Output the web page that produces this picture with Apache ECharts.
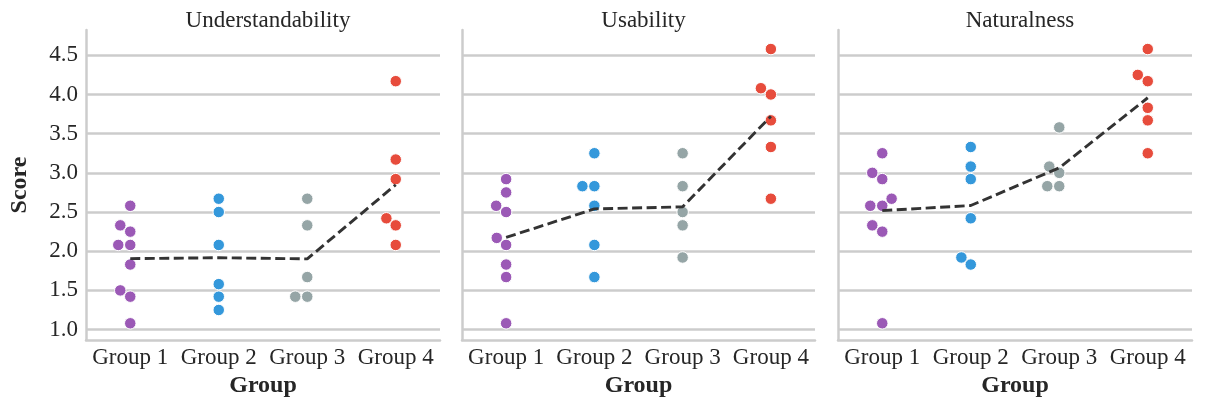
<!DOCTYPE html>
<html>
<head>
<meta charset="utf-8">
<script src="https://cdn.jsdelivr.net/npm/echarts@6/dist/echarts.min.js"></script>
<style>
  html, body { margin: 0; padding: 0; background: #ffffff; }
  #chart { width: 1207px; height: 403px; }
</style>
</head>
<body>
<div id="chart"></div>
<script>
// ---------------- data ----------------
const categories = ['Group 1', 'Group 2', 'Group 3', 'Group 4'];
const panelTitles = ['Understandability', 'Usability', 'Naturalness'];
const groupColors = ['#9b59b6', '#3498db', '#95a5a6', '#e74c3c'];

const understandability = [
  [2.58, 2.33, 2.25, 2.08, 2.08, 1.83, 1.50, 1.42, 1.08],
  [2.67, 2.50, 2.08, 1.58, 1.42, 1.25],
  [2.67, 2.33, 1.67, 1.42, 1.42],
  [4.17, 3.17, 2.92, 2.42, 2.33, 2.08]
];
const usability = [
  [2.92, 2.75, 2.58, 2.50, 2.17, 2.08, 1.83, 1.67, 1.08],
  [3.25, 2.83, 2.83, 2.58, 2.08, 1.67],
  [3.25, 2.83, 2.50, 2.33, 1.92],
  [4.58, 4.08, 4.00, 3.67, 3.33, 2.67]
];
const naturalness = [
  [3.25, 3.00, 2.92, 2.67, 2.58, 2.58, 2.33, 2.25, 1.08],
  [3.33, 3.08, 2.92, 2.42, 1.92, 1.83],
  [3.58, 3.08, 3.00, 2.83, 2.83],
  [4.58, 4.25, 4.17, 3.83, 3.67, 3.25]
];
const panelData = [understandability, usability, naturalness];

const yMin = 0.867, yMax = 4.823;

// ---------------- layout ----------------
const FONT = '"Liberation Serif", "Times New Roman", serif';
const TXT = '#262626';
const GRIDC = '#cccccc';
const gridTop = 30, gridHeight = 312;
const gridLefts = [86, 462, 838];
const gridWidths = [354, 353, 354];
const markerDiam = 11.4; // px, used for swarm spacing

// beeswarm layout (seaborn-like), returns offsets in category units
function swarmOffsets(values, xppu, yppu, diam) {
  const order = values.map((v, i) => i).sort((a, b) => values[a] - values[b]);
  const placed = [];
  const offs = new Array(values.length).fill(0);
  for (const i of order) {
    const y = values[i] * yppu;
    const neigh = placed.filter(p => Math.abs(p.y - y) < diam);
    const cands = [0];
    let leftFirst = true;
    for (const p of neigh) {
      const dy = y - p.y;
      const dx = Math.sqrt(Math.max(diam * diam - dy * dy, 0)) * 1.05;
      const cl = p.x - dx, cr = p.x + dx;
      if (leftFirst) cands.push(cl, cr); else cands.push(cr, cl);
      leftFirst = !leftFirst;
    }
    const idx = cands.map((c, k) => k).sort((a, b) => (Math.abs(cands[a]) - Math.abs(cands[b])) || (a - b));
    let chosen = 0;
    for (const k of idx) {
      const cx = cands[k];
      if (neigh.every(p => Math.hypot(p.x - cx, p.y - y) >= diam - 1e-6)) { chosen = cx; break; }
    }
    placed.push({ x: chosen, y: y });
    offs[i] = chosen / xppu;
  }
  return offs;
}

const grid = [], xAxis = [], yAxis = [], series = [], title = [];
panelData.forEach((groups, p) => {
  grid.push({ left: gridLefts[p], top: gridTop, width: gridWidths[p], height: gridHeight, containLabel: false });
  title.push({
    text: panelTitles[p], left: gridLefts[p] + gridWidths[p] / 2, top: 4, textAlign: 'center',
    textStyle: { fontFamily: FONT, fontSize: 23, fontWeight: 'normal', color: TXT }
  });
  // visible category axis
  xAxis.push({
    type: 'category', gridIndex: p, data: categories, boundaryGap: true,
    axisLine: { show: true, onZero: false, lineStyle: { color: GRIDC, width: 2.5 } },
    axisTick: { show: false },
    axisLabel: { interval: 0, margin: 6, fontFamily: FONT, fontSize: 23, color: TXT },
    splitLine: { show: false },
    name: 'Group', nameLocation: 'middle', nameGap: 34,
    nameTextStyle: { fontFamily: FONT, fontSize: 24, fontWeight: 'bold', color: TXT }
  });
  // hidden value axis for positioning marks
  xAxis.push({ type: 'value', gridIndex: p, min: -0.5, max: 3.5, show: false,
    axisLine: { onZero: false }, splitLine: { show: false } });
  yAxis.push({
    type: 'value', gridIndex: p, min: yMin, max: yMax, splitNumber: 8,
    axisLine: { show: true, onZero: false, lineStyle: { color: GRIDC, width: 2.5 } },
    axisTick: { show: false },
    axisLabel: {
      show: p === 0, margin: 8, fontFamily: FONT, fontSize: 23, color: TXT,
      showMinLabel: false, showMaxLabel: false,
      formatter: v => (Math.abs(v - yMin) < 1e-6 || Math.abs(v - yMax) < 1e-6) ? '' : v.toFixed(1)
    },
    splitLine: { show: true, showMinLine: false, showMaxLine: false, lineStyle: { color: GRIDC, width: 2.5 } },
    name: p === 0 ? 'Score' : '', nameLocation: 'middle', nameGap: 54,
    nameTextStyle: { fontFamily: FONT, fontSize: 24, fontWeight: 'bold', color: TXT }
  });

  const xppu = gridWidths[p] / 4;
  const yppu = gridHeight / (yMax - yMin);
  const means = [];
  groups.forEach((vals, g) => {
    const offs = swarmOffsets(vals, xppu, yppu, markerDiam);
    series.push({
      type: 'scatter', xAxisIndex: p * 2 + 1, yAxisIndex: p,
      symbol: 'circle', symbolSize: 11.5,
      itemStyle: { color: groupColors[g], borderColor: '#ffffff', borderWidth: 1, opacity: 1 },
      data: vals.map((v, i) => [g + offs[i], v]),
      z: 2, silent: true
    });
    means.push([g, vals.reduce((a, b) => a + b, 0) / vals.length]);
  });
  series.push({
    type: 'line', xAxisIndex: p * 2 + 1, yAxisIndex: p,
    data: means, symbol: 'none', smooth: false,
    lineStyle: { color: '#333333', width: 2.9, type: [10, 4.5] },
    z: 3, silent: true
  });
});

const chart = echarts.init(document.getElementById('chart'), null, { renderer: 'canvas' });
chart.setOption({
  animation: false,
  backgroundColor: '#ffffff',
  title: title,
  grid: grid,
  xAxis: xAxis,
  yAxis: yAxis,
  series: series
});
</script>
</body>
</html>
